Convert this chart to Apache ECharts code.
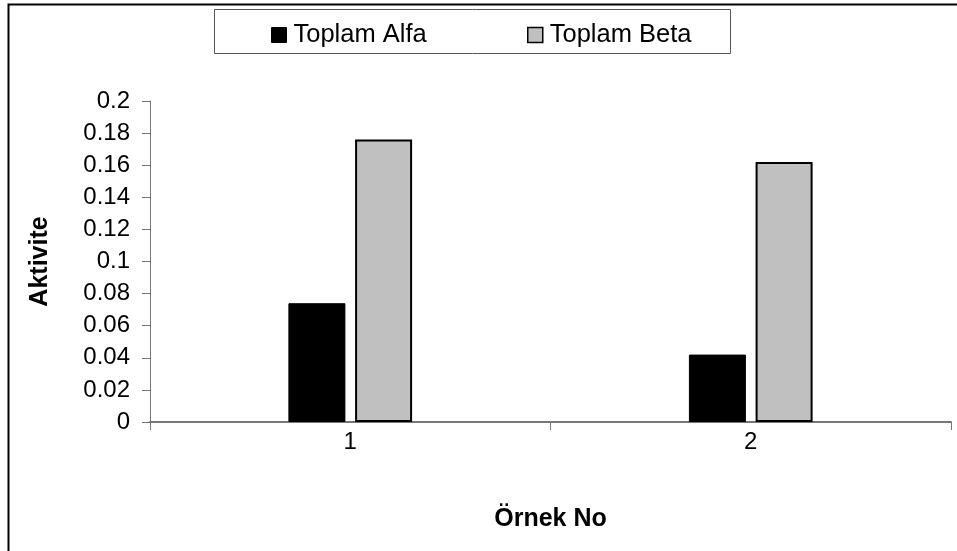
<!DOCTYPE html>
<html>
<head>
<meta charset="utf-8">
<script src="https://cdn.jsdelivr.net/npm/echarts@6/dist/echarts.min.js"></script>
<style>
  html, body { margin: 0; padding: 0; background: #fff; }
  #chart { width: 957px; height: 551px; }
</style>
</head>
<body>
<div id="chart"></div>
<script>
// Sample numbers on the category axis
const categories = ['1', '2'];
// Total activity per sample
const alfaValues = [0.074, 0.042];
const betaValues = [0.176, 0.162];
// Value axis range
const yMin = 0;
const yMax = 0.2;
const yStep = 0.02;

const FONT = 'Liberation Sans, Arial, sans-serif';
const legendText = { fontFamily: FONT, fontSize: 25.5, color: '#000', padding: [0, 0, 0, 2] };

const chart = echarts.init(document.getElementById('chart'), null, { renderer: 'canvas' });

chart.setOption({
  animation: false,
  backgroundColor: '#ffffff',
  graphic: [
    // outer frame (left and top edges visible)
    { type: 'rect', z: -1, shape: { x: 8.5, y: 4.5, width: 1000, height: 600 },
      style: { fill: 'none', stroke: '#000', lineWidth: 2 } },
    // legend frame
    { type: 'rect', shape: { x: 214.5, y: 9.5, width: 516, height: 44 },
      style: { fill: '#fff', stroke: '#555', lineWidth: 1 } }
  ],
  legend: [
    {
      top: 17, left: 266, itemWidth: 15, itemHeight: 15, icon: 'rect',
      textStyle: legendText,
      data: [{ name: 'Toplam Alfa', itemStyle: { color: '#000', borderColor: '#000', borderWidth: 1 } }]
    },
    {
      top: 17, left: 522, itemWidth: 15, itemHeight: 15, icon: 'rect',
      textStyle: legendText,
      data: [{ name: 'Toplam Beta', itemStyle: { color: '#c0c0c0', borderColor: '#000', borderWidth: 1.5 } }]
    }
  ],
  grid: { left: 150, right: 6, top: 101, bottom: 129, containLabel: false },
  xAxis: {
    type: 'category',
    data: categories,
    name: 'Örnek No',
    nameLocation: 'middle',
    nameGap: 85,
    nameTextStyle: { fontFamily: FONT, fontSize: 25, fontWeight: 'bold', color: '#000' },
    axisLine: { lineStyle: { color: '#777', width: 2 } },
    axisTick: { show: true, length: 8, lineStyle: { color: '#777' } },
    axisLabel: { fontFamily: FONT, fontSize: 24, color: '#000', margin: 8 },
    splitLine: { show: false }
  },
  yAxis: {
    type: 'value',
    min: yMin,
    max: yMax,
    interval: yStep,
    name: 'Aktivite',
    nameLocation: 'middle',
    nameGap: 97,
    nameRotate: 90,
    nameTextStyle: { fontFamily: FONT, fontSize: 25, fontWeight: 'bold', color: '#000' },
    axisLine: { show: true, lineStyle: { color: '#777', width: 1 } },
    axisTick: { show: true, length: 8, lineStyle: { color: '#777' } },
    axisLabel: { fontFamily: FONT, fontSize: 24, color: '#000', margin: 20,
      formatter: v => String(+v.toFixed(2)) },
    splitLine: { show: false }
  },
  series: [
    {
      name: 'Toplam Alfa',
      type: 'bar',
      data: alfaValues,
      barWidth: 57,
      barGap: '17%',
      itemStyle: { color: '#000', borderColor: '#000', borderWidth: 1 }
    },
    {
      name: 'Toplam Beta',
      type: 'bar',
      data: betaValues,
      barWidth: 57,
      barGap: '17%',
      itemStyle: { color: '#c0c0c0', borderColor: '#000', borderWidth: 2 }
    }
  ]
});
</script>
</body>
</html>
